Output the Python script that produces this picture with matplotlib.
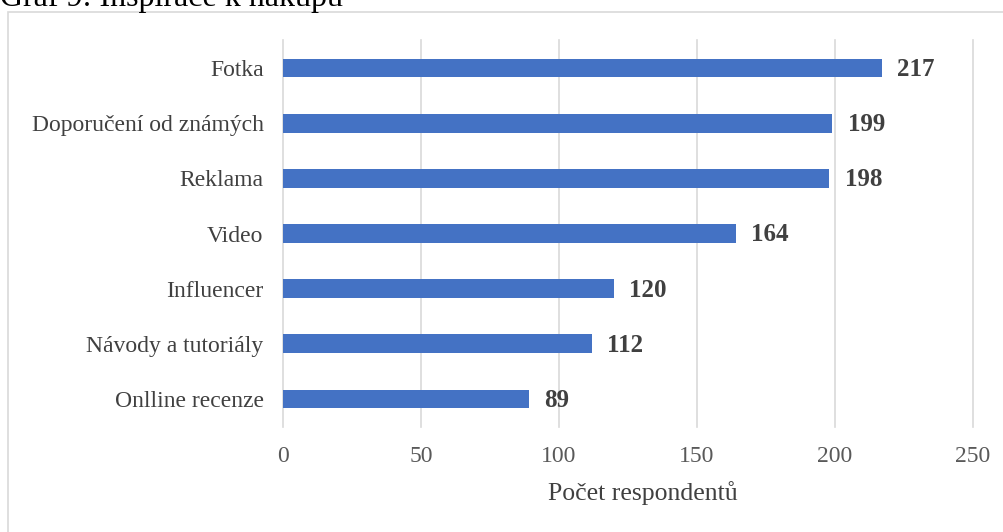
import matplotlib.pyplot as plt
from matplotlib.patches import Rectangle

categories = ['Fotka', 'Doporučení od známých', 'Reklama', 'Video',
              'Influencer', 'Návody a tutoriály', 'Onlline recenze']
values = [217, 199, 198, 164, 120, 112, 89]
xticks = [0, 50, 100, 150, 200, 250]

plt.rcParams['font.family'] = ['Liberation Serif', 'DejaVu Serif']

fig = plt.figure(figsize=(10.04, 5.32), dpi=100)

# outer chart border (extends beyond the crop on right/bottom)
fig.patches.append(Rectangle((8 / 1004, -0.1), 1.2, 1 - 12 / 532 + 0.1,
                             transform=fig.transFigure, fill=False,
                             edgecolor='#d9d9d9', linewidth=1.2))

fig.text(0.0, 1 - 6 / 532, 'Graf 9: Inspirace k nákupu', fontsize=23,
         color='black', va='baseline', ha='left')

ax = fig.add_axes([283 / 1004, 1 - 426.6 / 532, 690 / 1004, 386.2 / 532])
pos = list(range(len(categories)))
ax.barh(pos, values, height=0.34, color='#4472C4', zorder=3)
ax.set_ylim(len(categories) - 0.5, -0.5)
ax.set_xlim(0, 250)
ax.set_yticks(pos)
ax.set_yticklabels(categories, fontsize=17, color='#404040')
ax.set_xticks(xticks)
ax.set_xticklabels([str(t) for t in xticks], fontsize=17, color='#595959')
ax.tick_params(length=0)
ax.tick_params(axis='x', pad=14)
ax.tick_params(axis='y', pad=14)
ax.grid(axis='x', color='#d9d9d9', linewidth=1.2, zorder=0)
for g in ax.get_xgridlines():
    g.set_clip_on(False)
for s in ax.spines.values():
    s.set_visible(False)
ax.set_xlabel('Počet respondentů', fontsize=18.5, color='#404040', labelpad=10,
              x=0.522)

for p, v in zip(pos, values):
    ax.annotate(str(v), (v, p), xytext=(11, -1), textcoords='offset points',
                va='center', ha='left', fontsize=18, fontweight='bold',
                color='#404040')

fig.savefig('out.png', dpi=100)
